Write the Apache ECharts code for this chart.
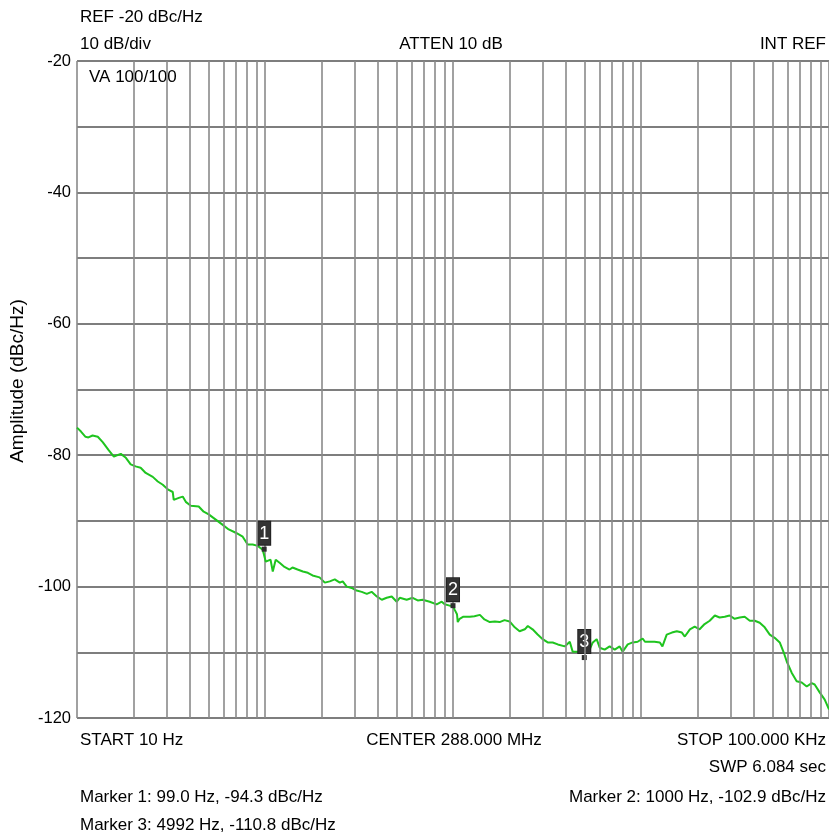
<!DOCTYPE html>
<html><head><meta charset="utf-8">
<script src="https://cdn.jsdelivr.net/npm/echarts@6/dist/echarts.min.js"></script>
<style>html,body{margin:0;padding:0;background:#fff}#c{width:829px;height:837px}</style>
</head><body><div id="c"></div>
<script>
// Phase-noise trace: [frequency Hz, amplitude dBc/Hz]
const trace = [
[10,-75.8],[10.5,-76.4],[11.1,-77.2],[11.5,-77.3],[12.1,-77.0],[12.9,-77.2],[13.7,-78.0],[14.7,-79.2],
[15.7,-80.2],[17.1,-79.8],[18.2,-80.4],[19.3,-81.4],[20.5,-81.7],[21.8,-81.9],[23.2,-82.7],[25.3,-83.3],
[26.9,-84.0],[28.6,-84.5],[30.4,-85.2],[32.3,-85.6],[32.7,-86.8],[34.8,-86.5],[36.5,-86.3],[37.9,-87.1],
[40.3,-87.7],[44.4,-87.8],[47.2,-88.6],[50.2,-89.0],[54.7,-89.8],[59.6,-90.6],[64.1,-91.3],[69.9,-91.8],
[76.1,-92.4],[80.9,-93.6],[86.0,-93.6],[91.5,-93.8],[97.2,-94.4],[99,-94.3],[101,-96.2],[103,-96.2],
[107,-95.9],[110,-97.7],[114,-95.9],[120,-96.4],[127,-97.0],[135,-97.4],[140,-97.1],[149,-97.4],
[159,-97.7],[169,-97.9],[179,-98.3],[195,-98.6],[208,-99.4],[221,-99.2],[235,-98.9],[250,-99.4],
[259,-99.2],[272,-100.0],[289,-100.2],[307,-100.6],[327,-100.8],[348,-101.1],[369,-100.8],[393,-101.5],
[418,-102.0],[444,-101.7],[472,-101.5],[502,-102.3],[521,-101.7],[567,-102.0],[610,-101.7],[649,-102.1],
[690,-102.0],[752,-102.3],[819,-102.7],[871,-102.3],[903,-102.7],[960,-102.9],[1000,-102.9],[1020,-103.5],
[1050,-104.2],[1060,-105.4],[1085,-104.9],[1130,-104.6],[1230,-104.6],[1300,-104.5],[1390,-104.3],[1470,-105.0],
[1570,-105.4],[1670,-105.3],[1770,-105.4],[1880,-105.1],[2000,-105.3],[2130,-106.2],[2260,-106.8],[2410,-106.5],
[2500,-106.0],[2650,-106.5],[2820,-107.3],[3000,-108.0],[3190,-108.5],[3390,-108.5],[3610,-108.8],[3930,-109.1],
[4180,-108.4],[4330,-109.9],[4610,-109.9],[4900,-109.8],[4992,-110.2],[5140,-109.3],[5330,-109.6],[5540,-108.5],
[5810,-108.0],[6030,-109.3],[6410,-109.6],[6810,-109.1],[7250,-109.6],[7700,-109.1],[7990,-109.9],[8500,-108.8],
[9030,-108.5],[9600,-108.4],[10200,-107.9],[10500,-108.4],[10900,-108.4],[11100,-108.5],[11800,-108.4],[12600,-108.5],
[13000,-109.1],[13700,-107.3],[14600,-107.0],[15500,-106.8],[16500,-107.0],[17100,-107.6],[18200,-106.5],[19300,-106.1],
[20500,-106.5],[21800,-105.7],[23200,-105.2],[24700,-104.4],[26200,-104.7],[27900,-104.6],[29600,-104.4],[31500,-104.9],
[33500,-104.7],[35600,-104.6],[37900,-105.2],[40300,-105.2],[42800,-105.5],[45500,-106.2],[48400,-107.3],[51400,-107.8],
[54700,-108.5],[57400,-110.0],[59600,-111.4],[63300,-113.1],[67300,-114.4],[71600,-114.6],[76100,-115.2],[80900,-114.7],
[83900,-114.9],[89200,-116.1],[94900,-117.2],[100000,-118.7]
];
const markerIds = ['1','2','3'];
const markerFreq = [99.0, 1000, 4992];
const markerAmp = [-94.3, -102.9, -110.8];
const yTickLabels = [-120,-100,-80,-60,-40,-20];
const minorGridFreqs = [20,30,40,50,60,70,80,90,200,300,400,500,600,700,800,900,
  2000,3000,4000,5000,6000,7000,8000,9000,20000,30000,40000,50000,60000,70000,80000,90000];
const headerLeft = ['REF -20 dBc/Hz','10 dB/div'];
const headerCenter = 'ATTEN 10 dB';
const headerRight = 'INT REF';
const insideText = 'VA 100/100';
const footerLeft = 'START 10 Hz';
const footerCenter = 'CENTER 288.000 MHz';
const footerRight = 'STOP 100.000 KHz';
const sweepText = 'SWP 6.084 sec';
const markerTexts = ['Marker 1: 99.0 Hz, -94.3 dBc/Hz','Marker 2: 1000 Hz, -102.9 dBc/Hz','Marker 3: 4992 Hz, -110.8 dBc/Hz'];
const yName = 'Amplitude (dBc/Hz)';

const FONT = 'Arial, "Liberation Sans", sans-serif';
const gridColor = '#8a8a8a';
function txt(text, x, y, align, size) {
  return {type:'text', x:x, y:y, silent:true, style:{text:text, x:0, y:0, fill:'#000',
    font:(size||17) + 'px ' + FONT, align:align||'left', verticalAlign:'middle'}};
}

const chart = echarts.init(document.getElementById('c'), null, {renderer:'canvas'});
chart.setOption({
  animation:false,
  backgroundColor:'#fff',
  grid:{left:77, top:61, width:752, height:657, containLabel:false},
  xAxis:{type:'log', logBase:10, min:10, max:100000,
    axisLine:{show:false}, axisTick:{show:false}, axisLabel:{show:false},
    splitLine:{show:true, lineStyle:{color:gridColor, width:1.6}}},
  yAxis:{type:'value', min:-120, max:-20, interval:10,
    axisLine:{show:false}, axisTick:{show:false},
    axisLabel:{color:'#000', fontSize:16.5, fontFamily:FONT, margin:6,
      formatter:v => yTickLabels.indexOf(v) >= 0 ? String(v) : ''},
    splitLine:{show:true, lineStyle:{color:'#7e7e7e', width:2}}},
  series:[
    {type:'line', data:[], z:1, silent:true,
     markLine:{silent:true, symbol:['none','none'], animation:false, label:{show:false},
       lineStyle:{color:gridColor, width:1.6, type:'solid'},
       emphasis:{disabled:true},
       data:minorGridFreqs.map(f => ({xAxis:f}))}},
    {type:'line', data:trace, z:3, showSymbol:false, symbol:'none', silent:true,
     lineStyle:{color:'#1fc41f', width:2}},
    {type:'scatter', z:4, silent:true, symbol:'rect', symbolSize:5,
     itemStyle:{color:'#2e2e2e', opacity:1},
     data:markerFreq.map((f,i) => ({name:markerIds[i], value:[f, markerAmp[i]]})),
     label:{show:true, position:'top', distance:2, formatter:'{b}', color:'#ffffff',
       fontSize:18, fontFamily:'"Liberation Sans Narrow", Arial, sans-serif',
       backgroundColor:'#333333', borderColor:'#222', borderWidth:1,
       padding:[3,1,2,1], lineHeight:18, opacity:1}}
  ],
  graphic:[
    txt(headerLeft[0], 80, 17),
    txt(headerLeft[1], 80, 44),
    txt(headerCenter, 451, 44, 'center'),
    txt(headerRight, 826, 44, 'right'),
    txt(insideText, 89, 77),
    txt(footerLeft, 80, 740),
    txt(footerCenter, 454, 740, 'center'),
    txt(footerRight, 826, 740, 'right'),
    txt(sweepText, 826, 767, 'right'),
    txt(markerTexts[0], 80, 797),
    txt(markerTexts[1], 826, 797, 'right'),
    txt(markerTexts[2], 80, 825),
    {type:'text', x:18, y:381, rotation:Math.PI/2, silent:true,
     style:{text:yName, x:0, y:0, fill:'#000', font:'19px ' + FONT, align:'center', verticalAlign:'middle'}}
  ]
});
</script></body></html>
